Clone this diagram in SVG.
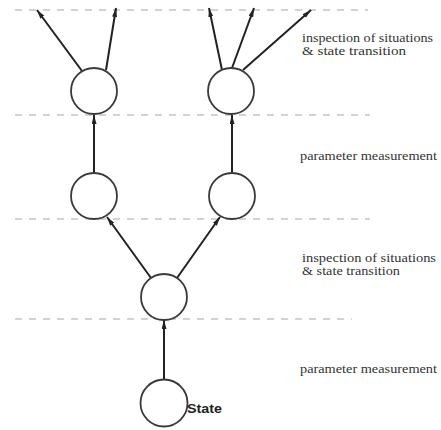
<svg xmlns="http://www.w3.org/2000/svg" width="441" height="430" viewBox="0 0 441 430">
<style>
.dash{stroke:#c4c4c4;stroke-width:1.5;stroke-dasharray:7 7;fill:none}
.node{fill:#fff;stroke:#3a3a3a;stroke-width:1.8}
.arr{stroke:#222;stroke-width:2;fill:none;marker-end:url(#ah)}
.lbl{font-family:"Liberation Serif","Times New Roman",serif;font-size:12.5px;fill:#333}
.st{font-family:"Liberation Sans",Arial,sans-serif;font-size:12.5px;font-weight:bold;fill:#222}
</style>
<defs>
<marker id="ah" markerUnits="userSpaceOnUse" markerWidth="10" markerHeight="8" refX="9" refY="2.5" orient="auto">
<path d="M0,0 L9,2.5 L0,5 z" fill="#222"/>
</marker>
</defs>
<rect width="441" height="430" fill="#fff"/>
<g id="levels">
<line class="dash" x1="15" y1="10" x2="368" y2="10"/>
<line class="dash" x1="15" y1="115" x2="370" y2="115"/>
<line class="dash" x1="15" y1="219" x2="370" y2="219"/>
<line class="dash" x1="15" y1="319" x2="352" y2="319"/>
</g>
<g id="connectors">
<line class="arr" x1="82" y1="71" x2="37" y2="10"/>
<line class="arr" x1="106" y1="70" x2="116" y2="8"/>
<line class="arr" x1="222" y1="70" x2="209" y2="8"/>
<line class="arr" x1="232" y1="68" x2="254" y2="8"/>
<line class="arr" x1="243" y1="70" x2="311" y2="10"/>
<line class="arr" x1="94" y1="173" x2="94" y2="115"/>
<line class="arr" x1="232" y1="173" x2="232" y2="115"/>
<line class="arr" x1="151" y1="278" x2="107" y2="217"/>
<line class="arr" x1="177" y1="278" x2="220" y2="217"/>
<line class="arr" x1="164" y1="380" x2="164" y2="320"/>
</g>
<g id="n-top-left"><circle class="node" cx="94" cy="91" r="23"/></g>
<g id="n-top-right"><circle class="node" cx="231" cy="91" r="23"/></g>
<g id="n-mid-left"><circle class="node" cx="94" cy="196" r="23"/></g>
<g id="n-mid-right"><circle class="node" cx="232" cy="196" r="23"/></g>
<g id="n-branch"><circle class="node" cx="164" cy="297" r="23"/></g>
<g id="n-state"><circle class="node" cx="164" cy="403" r="23.5"/>
<text class="st" x="187" y="413" textLength="35" lengthAdjust="spacingAndGlyphs">State</text></g>
<g id="labels">
<text class="lbl" x="302" y="42" textLength="131" lengthAdjust="spacingAndGlyphs">inspection of situations</text>
<text class="lbl" x="302" y="55" textLength="104" lengthAdjust="spacingAndGlyphs">&amp; state transition</text>
<text class="lbl" x="300" y="160" textLength="137" lengthAdjust="spacingAndGlyphs">parameter measurement</text>
<text class="lbl" x="302" y="262" textLength="134" lengthAdjust="spacingAndGlyphs">inspection of situations</text>
<text class="lbl" x="302" y="275" textLength="98" lengthAdjust="spacingAndGlyphs">&amp; state transition</text>
<text class="lbl" x="300" y="373" textLength="137" lengthAdjust="spacingAndGlyphs">parameter measurement</text>
</g>
</svg>
